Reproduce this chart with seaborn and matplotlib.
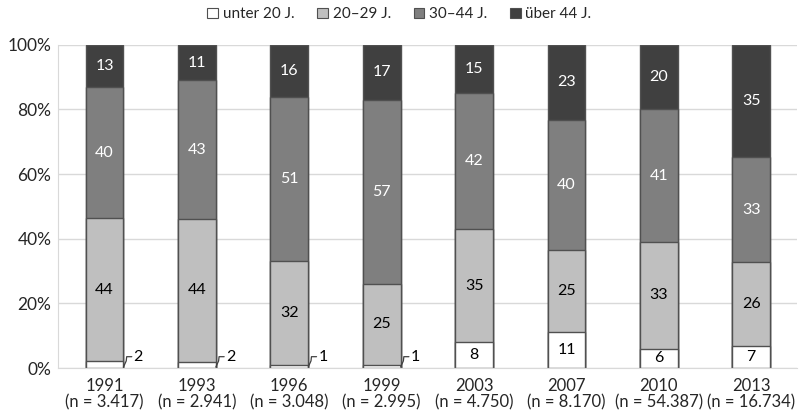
import numpy as np
import pandas as pd
import matplotlib
matplotlib.use("Agg")
import matplotlib.pyplot as plt
import seaborn as sns
from matplotlib.patches import Patch

# data (percent per age group)
years = ["1991", "1993", "1996", "1999", "2003", "2007", "2010", "2013"]
n_labels = ["3.417", "2.941", "3.048", "2.995", "4.750", "8.170", "54.387", "16.734"]
groups = ["unter 20 J.", "20\u201329 J.", "30\u201344 J.", "\u00fcber 44 J."]
under20 = [2, 2, 1, 1, 8, 11, 6, 7]
age20_29 = [44, 44, 32, 25, 35, 25, 33, 26]
age30_44 = [40, 43, 51, 57, 42, 40, 41, 33]
over44 = [13, 11, 16, 17, 15, 23, 20, 35]

colors = ["#ffffff", "#bfbfbf", "#7f7f7f", "#404040"]
text_colors = ["#000000", "#000000", "#ffffff", "#ffffff"]

sns.set_style("white")
plt.rcParams["font.family"] = ["Lato", "DejaVu Sans"]

vals = np.array([under20, age20_29, age30_44, over44], dtype=float)
share = vals / vals.sum(axis=0) * 100   # 100% stacked like in Excel
cum = np.cumsum(share, axis=0)

df = pd.DataFrame({"year": years})
for i, g in enumerate(groups):
    df[g] = cum[i]

fig = plt.figure(figsize=(7.99, 4.17), dpi=100)
ax = fig.add_axes([0.073, 0.1175, 0.925, 0.775])

# draw cumulative layers from top down so they look stacked
for i in range(3, -1, -1):
    sns.barplot(data=df, x="year", y=groups[i], color=colors[i], width=0.41,
                edgecolor="#505050", linewidth=1.0, saturation=1, ax=ax, zorder=2)

# segment labels
for j in range(len(years)):
    for i in range(4):
        v = int(vals[i, j])
        mid = cum[i, j] - share[i, j] / 2
        if v <= 2:
            x0 = j + 0.205
            ax.plot([x0, x0 + 0.03, x0 + 0.035, x0 + 0.09],
                    [0.3, 2.2, 3.5, 3.5], color="#404040", lw=0.9, zorder=3)
            ax.text(x0 + 0.11, 3.5, str(v), ha="left", va="center",
                    fontsize=11.5, color="#000000")
        else:
            ax.text(j, mid, str(v), ha="center", va="center",
                    fontsize=11.5, color=text_colors[i], zorder=4)

ax.set_ylim(0, 100)
ax.set_xlim(-0.5, len(years) - 0.5)
ax.set_yticks(np.arange(0, 101, 20))
ax.set_yticklabels([f"{t}%" for t in range(0, 101, 20)], fontsize=12.5)
ax.yaxis.grid(True, color="#d9d9d9", lw=1.0, zorder=0)
ax.set_axisbelow(True)
ax.set_xticks(range(len(years)))
ax.set_xticklabels([f"{y}\n(n = {n})" for y, n in zip(years, n_labels)],
                   fontsize=12, linespacing=1.05)
ax.tick_params(axis="x", length=0, pad=7)
ax.tick_params(axis="y", length=0, pad=5)
ax.set_xticks(np.arange(-0.5, len(years), 1), minor=True)
ax.tick_params(axis="x", which="minor", length=5, color="#d9d9d9", direction="out")
ax.set_xlabel("")
ax.set_ylabel("")
for s in ["top", "right"]:
    ax.spines[s].set_visible(False)
ax.spines["left"].set_color("#d9d9d9")
ax.spines["bottom"].set_color("#d9d9d9")

handles = [Patch(facecolor=c, edgecolor="#505050", lw=0.8) for c in colors]
fig.legend(handles, groups, loc="upper center", bbox_to_anchor=(0.5, 1.015), ncol=4,
           frameon=False, fontsize=11, handlelength=0.7, handleheight=0.7,
           handletextpad=0.3, columnspacing=1.5)

fig.savefig("out.png", dpi=100)
